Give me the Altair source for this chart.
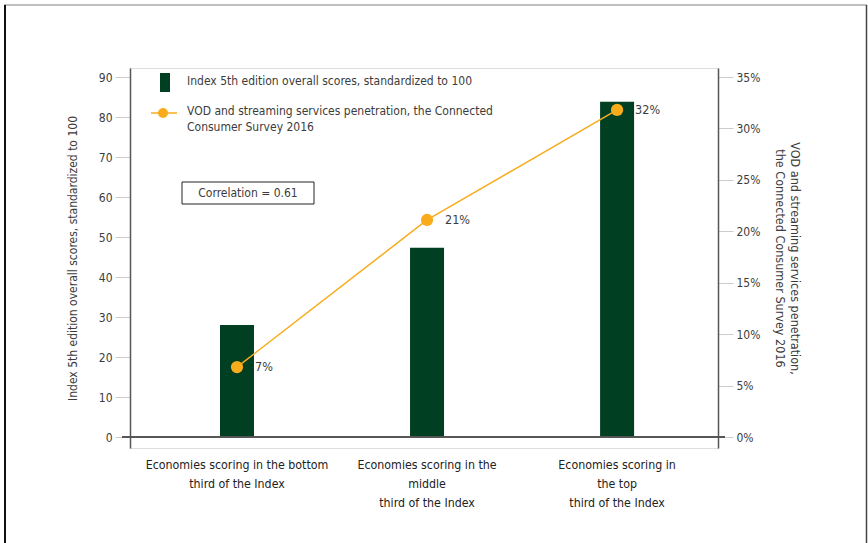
import altair as alt
import pandas as pd

categories = [
    "Economies scoring in the bottom|third of the Index",
    "Economies scoring in the|middle|third of the Index",
    "Economies scoring in|the top|third of the Index",
]
index_scores = [28.0, 47.3, 83.8]
vod_penetration = [6.8, 21.1, 31.8]
vod_labels = ["7%", "21%", "32%"]
left_ticks = [0, 10, 20, 30, 40, 50, 60, 70, 80, 90]
right_ticks = [0, 5, 10, 15, 20, 25, 30, 35]
legend_bar_text = "Index 5th edition overall scores, standardized to 100"
legend_line_text = ["VOD and streaming services penetration, the Connected", "Consumer Survey 2016"]
left_title = "Index 5th edition overall scores, standardized to 100"
right_title = ["VOD and streaming services penetration,", "the Connected Consumer Survey 2016"]
correlation_text = "Correlation = 0.61"

FONT = "Liberation Sans Narrow, DejaVu Sans Condensed, Roboto Condensed, Roboto, sans-serif"
GREEN = "#013f22"
ORANGE = "#f8ac1c"
TXT = "#3c3c3c"

df = pd.DataFrame({"cat": categories, "score": index_scores,
                   "vod": vod_penetration, "lab": vod_labels})

W, H = 588, 380
LMIN, LMAX = -2.75, 92.25
RMIN, RMAX = LMIN * 35 / 90, LMAX * 35 / 90

xaxis = alt.Axis(domain=False, ticks=False, labelAngle=0,
                 labelExpr="split(datum.label, '|')", labelLimit=0,
                 labelPadding=10, labelFontSize=12.3, labelLineHeight=19,
                 labelColor="#222222", labelFont=FONT)
xscale = alt.Scale(paddingInner=0, paddingOuter=0.047, align=0.67)


def xenc():
    return alt.X("cat:N", sort=categories, title=None, scale=xscale, axis=xaxis)


left_axis = alt.Axis(values=left_ticks, orient="left", tickSize=15, tickColor="#cccccc",
                     domainColor="#555555", domainWidth=1.5, labelPadding=3,
                     labelFontSize=12, labelColor=TXT, labelFont=FONT,
                     titleFont=FONT, titleFontSize=12, titleFontWeight="normal",
                     titleColor=TXT, titlePadding=19, grid=False)
left_scale = alt.Scale(domain=[LMIN, LMAX], nice=False, zero=False)

right_axis = alt.Axis(values=right_ticks, orient="right", tickSize=15, tickColor="#cccccc",
                      domainColor="#555555", domainWidth=1.5, labelPadding=3,
                      labelExpr="datum.value + '%'",
                      labelFontSize=12, labelColor=TXT, labelFont=FONT,
                      titleFont=FONT, titleFontSize=12.5, titleFontWeight="normal",
                      titleColor=TXT, titlePadding=13, grid=False)
right_scale = alt.Scale(domain=[RMIN, RMAX], nice=False, zero=False)

base = alt.Chart(df)

bars = base.mark_bar(color=GREEN, size=34).encode(
    x=xenc(),
    y=alt.Y("score:Q", title=left_title, scale=left_scale, axis=left_axis),
    y2=alt.datum(0),
)

xaxis_rule = base.transform_calculate(z="0").mark_rule(color="#555555", strokeWidth=1.5).encode(
    x=alt.value(-8), x2=alt.value(W + 7),
    y=alt.Y("z:Q", title=left_title, scale=left_scale, axis=left_axis),
)

left_group = alt.layer(bars, xaxis_rule)


def yright():
    return alt.Y("vod:Q", title=right_title, scale=right_scale, axis=right_axis)


line = base.mark_line(color=ORANGE, strokeWidth=1.5).encode(x=xenc(), y=yright())
pts = base.mark_point(color=ORANGE, filled=True, opacity=1, size=150).encode(x=xenc(), y=yright())
labs = base.mark_text(align="left", dx=18, fontSize=12.5, font=FONT, color=TXT).encode(
    x=xenc(), y=yright(), text="lab:N")

right_group = alt.layer(line, pts, labs)

# legend and annotation
one = pd.DataFrame({"a": [0]})
leg_bar = alt.Chart(one).mark_rect(color=GREEN).encode(
    x=alt.value(30), x2=alt.value(40), y=alt.value(5), y2=alt.value(24))
leg_bar_t = alt.Chart(one).mark_text(align="left", baseline="middle", fontSize=12, font=FONT, color=TXT,
                                     text=legend_bar_text).encode(x=alt.value(57), y=alt.value(13))
leg_line = alt.Chart(one).mark_rule(color=ORANGE, strokeWidth=1.5).encode(
    x=alt.value(21), x2=alt.value(47), y=alt.value(45))
leg_pt = alt.Chart(one).mark_point(color=ORANGE, filled=True, opacity=1, size=100).encode(
    x=alt.value(33), y=alt.value(45))
leg_line_t = alt.Chart(one).mark_text(align="left", baseline="top", fontSize=12, font=FONT, color=TXT,
                                      lineHeight=15.5, text=legend_line_text).encode(x=alt.value(57), y=alt.value(38))
corr_box = alt.Chart(one).mark_rect(fill="white", stroke="#222222", strokeWidth=1).encode(
    x=alt.value(52), x2=alt.value(184), y=alt.value(114), y2=alt.value(136))
corr_t = alt.Chart(one).mark_text(align="center", baseline="middle", fontSize=12, font=FONT, color=TXT,
                                  text=correlation_text).encode(x=alt.value(118), y=alt.value(125))

# outer frame
frame_top = alt.Chart(one).mark_rule(color="#aaaaaa", strokeWidth=1.5).encode(
    x=alt.value(-126), x2=alt.value(737), y=alt.value(-63))
frame_left = alt.Chart(one).mark_rule(color="#111111", strokeWidth=2).encode(
    x=alt.value(-125), y=alt.value(-63), y2=alt.value(480))
frame_right = alt.Chart(one).mark_rule(color="#444444", strokeWidth=1.5).encode(
    x=alt.value(736.5), y=alt.value(-63), y2=alt.value(480))

deco = alt.layer(leg_bar, leg_bar_t, leg_line, leg_pt, leg_line_t, corr_box, corr_t,
                 frame_top, frame_left, frame_right)

chart = alt.layer(left_group, right_group, deco).resolve_scale(y="independent").properties(
    width=W, height=H,
    autosize=alt.AutoSizeParams(type="none"),
    padding={"left": 130, "top": 68, "right": 150, "bottom": 95},
).configure_view(strokeWidth=0).configure(background="white")

chart.save("out.html", embed_options={"renderer": "svg", "actions": False})
